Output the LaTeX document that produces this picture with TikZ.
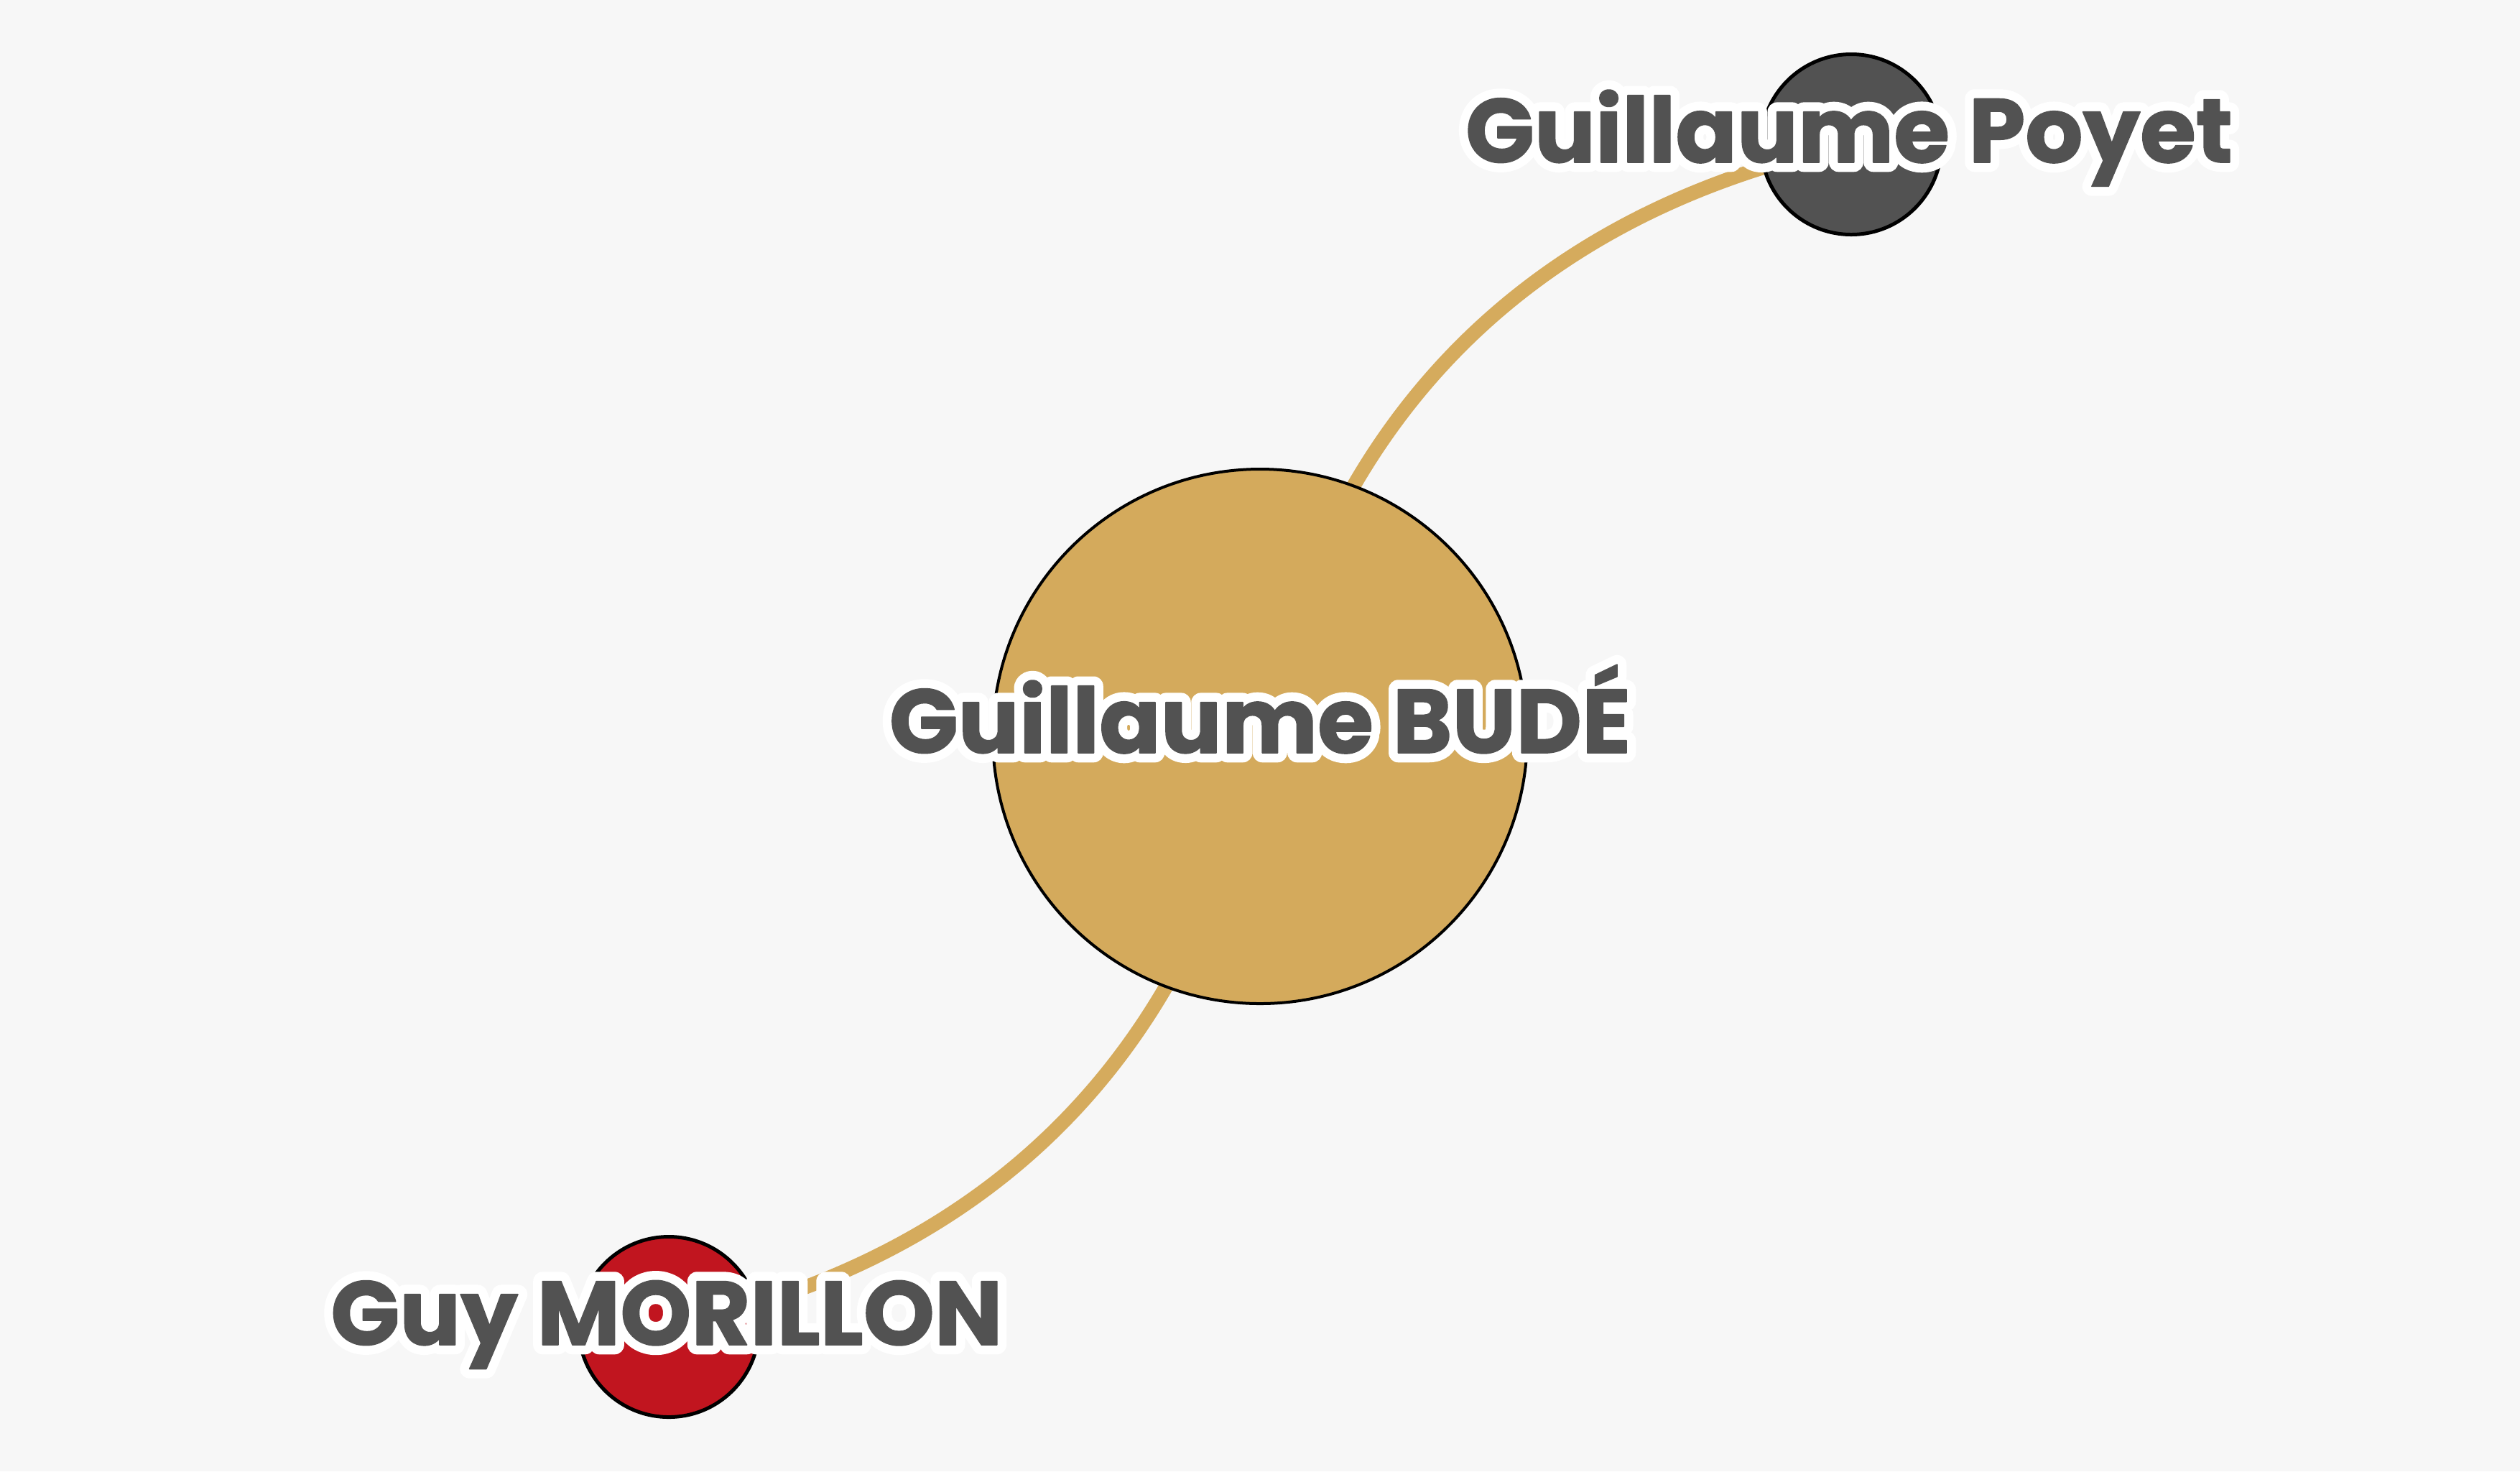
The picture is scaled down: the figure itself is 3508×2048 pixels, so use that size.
\documentclass[tikz,border=0pt]{standalone}
\usepackage{fontspec}
\newfontfamily\labfont{Poppins}[UprightFont={* Bold}, FakeBold=1.3]
\newfontfamily\halofont{Poppins}[UprightFont={* Bold}, FakeBold=21]
\usetikzlibrary{backgrounds}
\definecolor{bgcol}{HTML}{F7F7F7}
\definecolor{budegold}{HTML}{D4AA5C}
\definecolor{linkgold}{HTML}{D5AB5D}
\definecolor{poyetgray}{HTML}{525252}
\definecolor{morillonred}{HTML}{C1151F}
\definecolor{labgray}{HTML}{525252}
\newcommand{\haloed}[1]{\special{pdf:literal direct 1 j 1 J}\rlap{\halofont\color{white}#1}{\labfont\color{labgray}#1}}
\begin{document}
\begin{tikzpicture}[x=0.25pt,y=-0.25pt,
  person/.style={circle, draw=black, inner sep=0pt},
  bignode/.style={person, minimum size=186pt, line width=1pt, fill=budegold},
  smallnode/.style={person, minimum size=62.75pt, line width=1.25pt},
  lab/.style={anchor=base, inner sep=0pt, text=labgray, font=\fontsize{31.5}{36}\selectfont},
  link/.style={draw=linkgold, line width=5pt}]
\useasboundingbox (0,0) rectangle (3508,2048);
\node[bignode] (bude) at (1754,1025) {};
\node[smallnode, fill=poyetgray] (poyet) at (2577,201) {};
\node[smallnode, fill=morillonred] (morillon) at (931,1847) {};
\begin{pgfonlayer}{background}
  \fill[bgcol] (0,0) rectangle (3508,2048);
  \draw[link] (bude.center) to[bend left=33] (poyet.center);
  \draw[link] (bude.center) to[bend left=33] (morillon.center);
\end{pgfonlayer}
\node[lab] (budelab) at (1754,1048) {\haloed{Guillaume BUDÉ}};
\node[lab] (poyetlab) at (2574,226) {\haloed{Guillaume Poyet}};
\node[lab] (morillonlab) at (928,1872) {\haloed{Guy MORILLON}};
\end{tikzpicture}
\end{document}
